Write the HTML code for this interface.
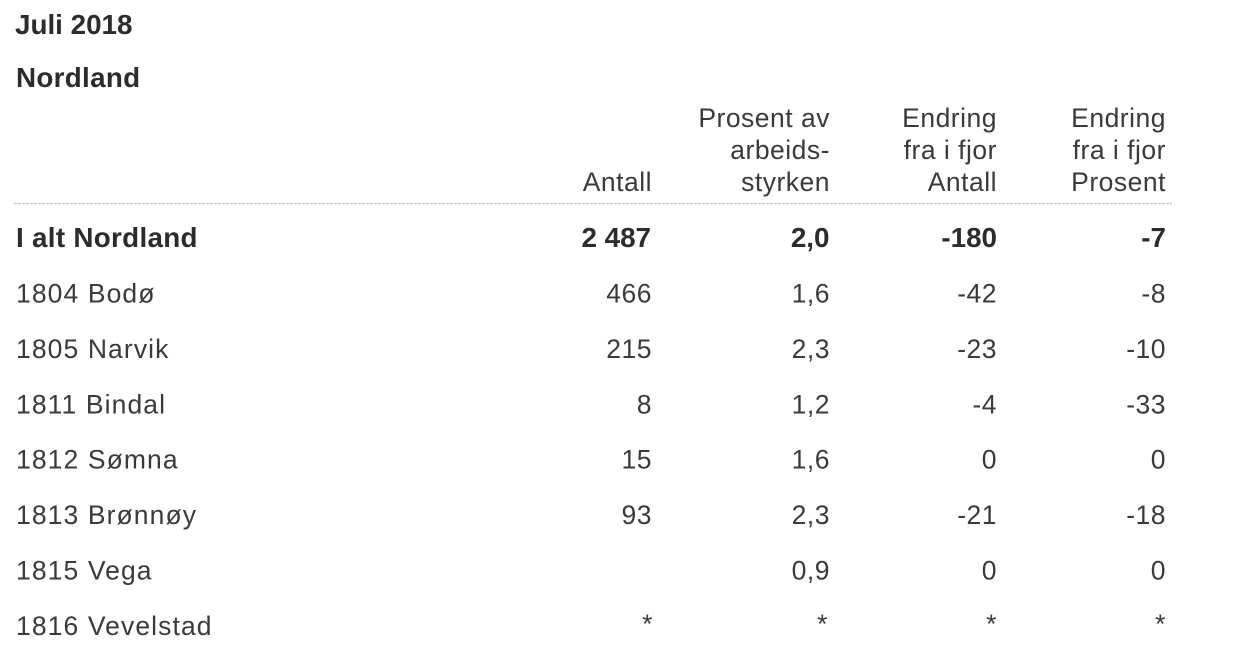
<!DOCTYPE html>
<html>
<head>
<meta charset="utf-8">
<style>
  html, body { margin: 0; padding: 0; background: #ffffff; }
  body { width: 1250px; height: 656px; overflow: hidden; }
  svg { display: block; }
  .r { font-family: "Liberation Sans", Arial, sans-serif; font-size: 26.5px; fill: #3a3a3a; letter-spacing: 0.5px; }
  .l { font-family: "Liberation Sans", Arial, sans-serif; font-size: 26.5px; fill: #3a3a3a; letter-spacing: 1.1px; }
  .b { font-family: "Liberation Sans", Arial, sans-serif; font-size: 27.8px; font-weight: bold; fill: #2c2c2c; }
  .bl { letter-spacing: 0.3px; }
  .e { text-anchor: end; }
</style>
</head>
<body>
<svg width="1250" height="656" viewBox="0 0 1250 656" xmlns="http://www.w3.org/2000/svg">
  <rect x="0" y="0" width="1250" height="656" fill="#ffffff"/>

  <!-- Titles -->
  <text class="b" x="15" y="34">Juli 2018</text>
  <text class="b bl" x="16" y="87">Nordland</text>

  <!-- Header -->
  <text class="r e" x="652" y="191">Antall</text>

  <text class="r e" x="830" y="127">Prosent av</text>
  <text class="r e" x="830" y="159">arbeids-</text>
  <text class="r e" x="830" y="191">styrken</text>

  <text class="r e" x="997" y="127">Endring</text>
  <text class="r e" x="997" y="159">fra i fjor</text>
  <text class="r e" x="997" y="191">Antall</text>

  <text class="r e" x="1166" y="127">Endring</text>
  <text class="r e" x="1166" y="159">fra i fjor</text>
  <text class="r e" x="1166" y="191">Prosent</text>

  <!-- Rule -->
  <line x1="14" y1="203.5" x2="1172" y2="203.5" stroke="#c4c4c4" stroke-width="1.2" stroke-dasharray="3,1"/>

  <!-- Total row -->
  <text class="b bl" x="16" y="247">I alt Nordland</text>
  <text class="b e" x="651" y="247">2 487</text>
  <text class="b e" x="829.5" y="247">2,0</text>
  <text class="b e" x="997" y="247">-180</text>
  <text class="b e" x="1166" y="247">-7</text>

  <!-- 1804 Bodø -->
  <text class="l" x="16" y="302.4">1804 Bodø</text>
  <text class="r e" x="652" y="302.4">466</text>
  <text class="r e" x="830" y="302.4">1,6</text>
  <text class="r e" x="997" y="302.4">-42</text>
  <text class="r e" x="1166" y="302.4">-8</text>

  <!-- 1805 Narvik -->
  <text class="l" x="16" y="357.9">1805 Narvik</text>
  <text class="r e" x="652" y="357.9">215</text>
  <text class="r e" x="830" y="357.9">2,3</text>
  <text class="r e" x="997" y="357.9">-23</text>
  <text class="r e" x="1166" y="357.9">-10</text>

  <!-- 1811 Bindal -->
  <text class="l" x="16" y="413.3">1811 Bindal</text>
  <text class="r e" x="652" y="413.3">8</text>
  <text class="r e" x="830" y="413.3">1,2</text>
  <text class="r e" x="997" y="413.3">-4</text>
  <text class="r e" x="1166" y="413.3">-33</text>

  <!-- 1812 Sømna -->
  <text class="l" x="16" y="468.7">1812 Sømna</text>
  <text class="r e" x="652" y="468.7">15</text>
  <text class="r e" x="830" y="468.7">1,6</text>
  <text class="r e" x="997" y="468.7">0</text>
  <text class="r e" x="1166" y="468.7">0</text>

  <!-- 1813 Brønnøy -->
  <text class="l" x="16" y="524.1">1813 Brønnøy</text>
  <text class="r e" x="652" y="524.1">93</text>
  <text class="r e" x="830" y="524.1">2,3</text>
  <text class="r e" x="997" y="524.1">-21</text>
  <text class="r e" x="1166" y="524.1">-18</text>

  <!-- 1815 Vega -->
  <text class="l" x="16" y="579.6">1815 Vega</text>
  <text class="r e" x="830" y="579.6">0,9</text>
  <text class="r e" x="997" y="579.6">0</text>
  <text class="r e" x="1166" y="579.6">0</text>

  <!-- 1816 Vevelstad -->
  <text class="l" x="16" y="635">1816 Vevelstad</text>
  <text class="r e" x="653" y="633">*</text>
  <text class="r e" x="828" y="633">*</text>
  <text class="r e" x="997" y="633">*</text>
  <text class="r e" x="1166" y="633">*</text>
</svg>
</body>
</html>
